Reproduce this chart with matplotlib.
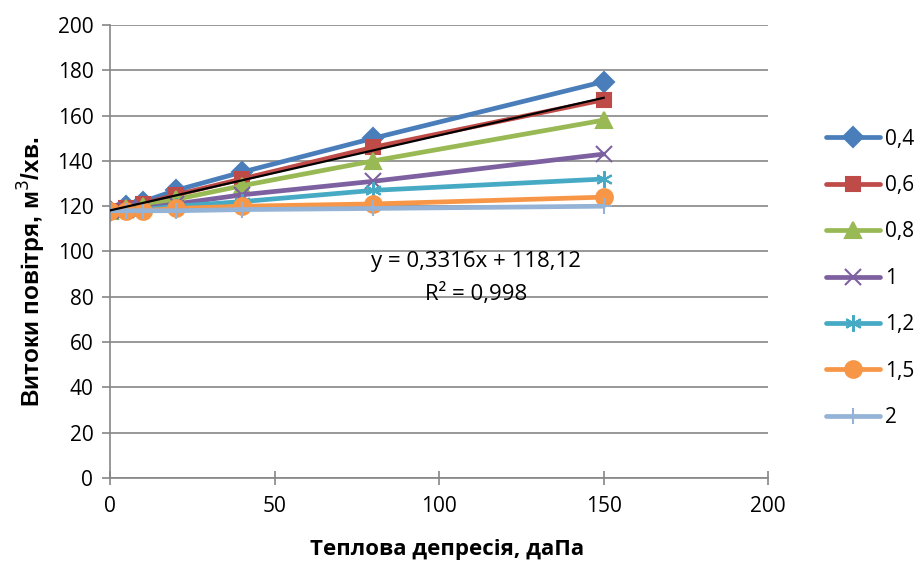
import matplotlib
matplotlib.use("Agg")
import matplotlib.pyplot as plt
import numpy as np

plt.rcParams['font.family'] = ['Open Sans', 'DejaVu Sans']

x = [0, 5, 10, 20, 40, 80, 150]
labels = ["0,4", "0,6", "0,8", "1", "1,2", "1,5", "2"]
s04 = [118, 120, 122, 127, 135, 150, 175]
s06 = [118, 119, 121, 125, 132, 146, 167]
s08 = [118, 119, 120, 123, 129, 140, 158]
s10 = [118, 118.5, 119, 121, 125, 131, 143]
s12 = [118, 118, 118.5, 120, 122, 127, 132]
s15 = [118, 118, 118, 119, 120, 121, 124]
s20 = [118, 118, 118, 118, 118.5, 119, 120]
series = [s04, s06, s08, s10, s12, s15, s20]

colors = ["#4A7EBB", "#BE4B48", "#98B954", "#7D60A0", "#46AAC5", "#F79646", "#95B3D7"]
markers = ["D", "s", "^", "x", (6, 2, 0), "o", "+"]
msizes = [10, 10, 11, 11, 12, 12, 12]

fig = plt.figure(figsize=(9.2, 5.62), dpi=100)
ax = fig.add_axes([0.1196, 0.1495, 0.7154, 0.806])

for ys, lab, c, m, ms in zip(series, labels, colors, markers, msizes):
    ax.plot(x, ys, color=c, lw=3.4, marker=m, markersize=ms, markeredgewidth=1.5,
            markeredgecolor=c, markerfacecolor=c, label=lab, solid_capstyle='round')

# linear trendline for 0,6 series
xa = np.array(x, dtype=float)
coef = np.polyfit(xa, np.array(s06, dtype=float), 1)
xt = np.array([0, 150])
ax.plot(xt, np.polyval(coef, xt), color="black", lw=1.6, zorder=10)

fig.text(476 / 920, 1 - 262 / 562, "y = 0,3316x + 118,12", fontsize=16, ha="center", va="center")
fig.text(476 / 920, 1 - 294 / 562, "R² = 0,998", fontsize=16, ha="center", va="center")

ax.set_xlim(0, 200)
ax.set_ylim(0, 200)
ax.set_xticks(range(0, 201, 50))
ax.set_yticks(range(0, 201, 20))
ax.yaxis.grid(True, color="#868686", lw=1.2)
ax.set_axisbelow(True)
for sp in ["top", "right"]:
    ax.spines[sp].set_visible(False)
for sp in ["left", "bottom"]:
    ax.spines[sp].set_color("#868686")
    ax.spines[sp].set_linewidth(1.2)
ax.tick_params(axis="both", labelsize=15, color="#868686", width=1.2)
ax.tick_params(axis="y", length=6, direction="out", pad=6)
ax.tick_params(axis="x", length=10, direction="inout", pad=8)

fig.text(447 / 920, 1 - 555 / 562, "Теплова депресія, даПа", fontsize=16, fontweight="bold",
         ha="center", va="baseline")
fig.text(32 / 920, 1 - 272 / 562, "Витоки повітря, м$^3$/хв.", fontsize=17.5, fontweight="bold",
         family=["Liberation Sans", "DejaVu Sans"], rotation=90, ha="center", va="center")

leg = ax.legend(loc="upper left", bbox_to_anchor=(0.889, 0.786), bbox_transform=fig.transFigure,
                frameon=False, fontsize=15, handlelength=2.6, handletextpad=0.22,
                labelspacing=1.22, borderaxespad=0)

fig.savefig("out.png", dpi=100)
